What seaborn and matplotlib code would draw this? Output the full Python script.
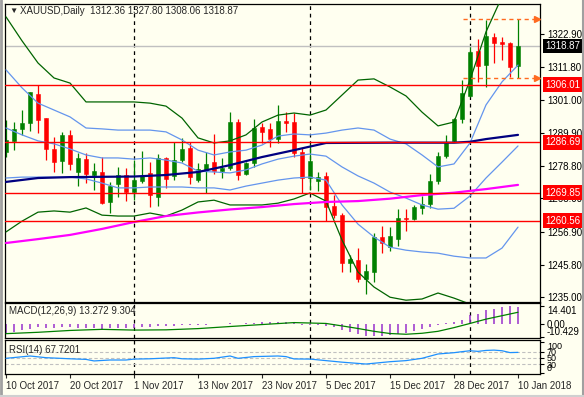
import seaborn as sns
import matplotlib
matplotlib.use("Agg")
import matplotlib.pyplot as plt
from matplotlib import transforms
from matplotlib import lines
import numpy as np

sns.set_style("white")
plt.rcParams['font.family'] = ['Liberation Sans', 'DejaVu Sans']

BG = "#FFFFF0"
BULL = "#008000"
BEAR = "#FF0000"
BB_OUT = "#006400"
BB_IN = "#6495ED"
NAVY = "#000080"
MAGENTA = "#FF00FF"
ORANGE = "#FF6A1F"
HIST = "#9932CC"
RSI_C = "#1E90FF"

# ---- daily candles, 10 Oct 2017 .. 10 Jan 2018
opens = [1283.5, 1287.3, 1291.2, 1293.1, 1302.9, 1294.7, 1284.5, 1280.6, 1289.2, 1276.9,
         1281.1, 1275.8, 1276.7, 1266.7, 1272.8, 1275.8, 1270.2, 1273.9, 1276.4, 1268.6,
         1281.4, 1275.6, 1280.8, 1284.9, 1274.1, 1277.5, 1280.0, 1277.2, 1278.2, 1293.6,
         1276.1, 1279.7, 1291.7, 1291.2, 1287.8, 1293.8, 1293.4, 1283.6, 1274.7, 1273.9,
         1275.5, 1265.4, 1262.4, 1246.5, 1247.4, 1241.1, 1243.5, 1255.2, 1251.8, 1254.4,
         1261.5, 1261.0, 1264.9, 1266.0, 1273.8, 1282.2, 1287.3, 1294.4, 1302.2, 1317.3,
         1312.5, 1322.0, 1320.3, 1320.0, 1312.36]
highs = [1294.2, 1293.6, 1297.5, 1303.6, 1305.9, 1295.0, 1288.6, 1290.3, 1290.8, 1283.2,
         1283.0, 1279.7, 1281.9, 1273.5, 1278.6, 1278.0, 1280.8, 1283.8, 1280.0, 1282.7,
         1281.7, 1286.9, 1288.1, 1286.7, 1279.7, 1283.4, 1289.4, 1281.4, 1296.9, 1294.4,
         1280.2, 1294.5, 1293.1, 1293.1, 1299.2, 1296.9, 1296.4, 1284.9, 1286.1, 1276.9,
         1276.9, 1269.1, 1263.0, 1249.1, 1251.3, 1246.0, 1256.5, 1258.8, 1258.5, 1264.3,
         1264.6, 1265.8, 1268.8, 1276.0, 1283.6, 1289.2, 1294.7, 1307.5, 1318.7, 1321.2,
         1327.6, 1323.3, 1322.0, 1320.1, 1327.80]
lows = [1281.8, 1284.2, 1289.2, 1290.6, 1289.9, 1280.8, 1276.9, 1276.6, 1277.5, 1272.1,
        1273.2, 1270.8, 1266.1, 1263.2, 1268.5, 1267.2, 1267.4, 1273.0, 1265.0, 1265.5,
        1271.3, 1274.1, 1280.1, 1272.8, 1273.6, 1269.7, 1276.3, 1274.7, 1277.5, 1274.1,
        1275.8, 1278.6, 1286.4, 1285.3, 1286.4, 1290.3, 1281.7, 1269.9, 1270.8, 1270.6,
        1260.5, 1261.4, 1243.5, 1243.5, 1240.2, 1236.0, 1240.0, 1249.8, 1250.5, 1252.1,
        1257.2, 1260.8, 1262.8, 1264.7, 1272.8, 1281.4, 1286.9, 1293.3, 1301.9, 1307.0,
        1305.3, 1313.3, 1314.2, 1308.6, 1308.06]
closes = [1287.5, 1291.1, 1293.1, 1303.4, 1294.2, 1284.5, 1280.2, 1289.2, 1279.5, 1281.4,
          1276.0, 1277.1, 1266.3, 1272.2, 1275.8, 1270.2, 1274.1, 1275.5, 1269.1, 1281.4,
          1274.4, 1280.8, 1284.5, 1275.2, 1277.7, 1279.5, 1277.1, 1278.2, 1293.6, 1275.8,
          1279.7, 1291.4, 1290.3, 1287.8, 1293.8, 1293.3, 1283.0, 1274.7, 1280.5, 1275.2,
          1265.2, 1262.4, 1246.3, 1247.7, 1241.1, 1243.7, 1255.2, 1253.0, 1255.4, 1261.3,
          1261.1, 1265.2, 1266.0, 1273.8, 1282.1, 1286.4, 1294.4, 1303.1, 1317.0, 1312.2,
          1322.2, 1320.0, 1319.7, 1312.0, 1318.87]

date_labels = ["10 Oct 2017", "20 Oct 2017", "1 Nov 2017", "13 Nov 2017", "23 Nov 2017",
               "5 Dec 2017", "15 Dec 2017", "28 Dec 2017", "10 Jan 2018"]
date_bars = [0, 8, 16, 24, 32, 40, 48, 56, 64]
month_start_bars = [16, 38, 58]

# ---- indicator lines
band_bars = list(range(0, 65, 2))
bb2_upper = [1328.6, 1320.6, 1313.2, 1308.2, 1306.5, 1300.2, 1300.2, 1300.2, 1300.2, 1299.8,
             1298.8, 1294.8, 1288.2, 1286.5, 1287.2, 1289.2, 1293.5, 1295.8, 1296.5, 1295.8,
             1297.5, 1302.5, 1307.5, 1307.9, 1305.2, 1302.2, 1296.8, 1292.2, 1293.5, 1307.5,
             1323.6, 1335.3, 1340.3]
bb2_lower = [1256.8, 1260.4, 1263.4, 1263.8, 1263.4, 1264.8, 1262.4, 1262.1, 1262.1, 1263.1,
             1262.1, 1264.1, 1266.8, 1267.4, 1265.8, 1265.8, 1265.8, 1266.4, 1267.8, 1269.8,
             1267.1, 1254.1, 1243.4, 1238.4, 1235.0, 1234.0, 1234.4, 1236.4, 1234.7, 1232.7,
             1226.0, 1224.3, 1231.4]
bb_mid = [1291.5, 1289.2, 1287.2, 1286.2, 1284.5, 1282.5, 1281.5, 1281.5, 1281.1, 1281.5,
          1280.8, 1279.8, 1277.1, 1276.8, 1276.5, 1277.5, 1279.5, 1281.1, 1282.1, 1282.8,
          1282.1, 1278.5, 1275.5, 1273.1, 1270.1, 1268.1, 1265.8, 1264.4, 1264.7, 1268.8,
          1274.8, 1280.1, 1285.5]
bb1_upper = [1310.9, 1304.9, 1299.8, 1297.5, 1295.2, 1291.5, 1291.2, 1290.8, 1290.8, 1290.8,
             1290.2, 1287.5, 1284.1, 1282.5, 1283.5, 1284.1, 1285.8, 1288.8, 1289.5, 1289.2,
             1289.8, 1290.8, 1291.5, 1290.8, 1287.8, 1286.2, 1282.5, 1278.5, 1279.5, 1286.5,
             1299.2, 1306.9, 1312.5]
bb1_lower = [1274.8, 1275.1, 1275.1, 1275.1, 1275.1, 1274.5, 1273.1, 1271.5, 1271.5, 1271.8,
             1271.8, 1271.8, 1271.5, 1271.5, 1270.8, 1272.1, 1273.1, 1274.1, 1274.8, 1275.1,
             1274.1, 1265.8, 1259.4, 1255.1, 1251.7, 1250.7, 1250.1, 1249.7, 1248.7, 1248.1,
             1248.1, 1251.4, 1258.4]
navy_bars = [0, 4, 8, 16, 20, 24, 28, 32, 36, 40, 48, 56, 58, 60, 64]
navy_ma = [1273.5, 1274.8, 1275.1, 1275.3, 1275.8, 1276.8, 1279.1, 1281.8, 1284.1, 1286.5,
           1286.6, 1286.6, 1286.9, 1287.8, 1289.2]
magenta_bars = list(range(0, 65, 4))
magenta_ma = [1253.1, 1254.4, 1255.8, 1257.8, 1260.1, 1262.1, 1263.3, 1264.3, 1265.1, 1266.1,
              1266.8, 1267.1, 1267.9, 1269.1, 1269.9, 1271.1, 1272.5]

red_levels = [1306.01, 1286.69, 1269.85, 1260.56]
price_ticks = [1322.90, 1311.80, 1301.00, 1289.90, 1278.80, 1268.00, 1256.90, 1245.80, 1235.00]

macd_hist = [-8.0, -7.0, -5.5, -4.2, -3.0, -3.2, -3.8, -3.0, -3.0, -3.2,
             -3.5, -3.5, -4.0, -3.8, -3.3, -3.3, -3.2, -2.8, -2.8, -2.2,
             -2.0, -1.6, -1.2, -1.2, -1.2, -0.9, -0.6, -0.5, 0.4, -0.1,
             0.3, 0.9, 1.2, 1.0, 1.5, 1.5, 0.5, -0.8, -1.0, -1.3,
             -2.2, -2.8, -5.0, -6.6, -8.5, -10.4, -10.2, -9.8, -9.0, -8.2,
             -7.4, -6.0, -4.2, -2.7, -1.0, 0.5, 1.6, 3.3, 6.9, 8.2,
             10.8, 11.6, 13.6, 14.4, 13.272]
signal_bars = [0, 4, 8, 12, 16, 20, 24, 28, 32, 36, 40, 42, 44, 46, 48, 50, 52, 54, 56, 58, 60, 62, 64]
macd_signal = [-8.1, -7.0, -5.5, -4.6, -5.2, -5.0, -4.0, -2.3, -0.7, 0.9, 0.2, -1.8, -3.9, -6.2,
               -8.0, -8.6, -7.8, -6.2, -3.2, 0.2, 3.7, 6.5, 9.304]

rsi_bars = [0, 3, 5, 8, 10, 11, 13, 15, 16, 18, 21, 22, 24, 26, 28, 29, 31, 34, 35, 36,
            38, 40, 42, 44, 45, 48, 50, 52, 54, 56, 57, 58, 59, 60, 61, 62, 63, 64]
rsi = [48.5, 56, 50.5, 47, 45, 40, 43, 43, 46, 47, 50.5, 47, 46, 48.5, 56, 48.5, 54, 56, 54, 46.5,
       46, 41, 36, 32, 30, 37.5, 41, 48.5, 62.5, 66.7, 70, 73, 71, 74, 75, 73, 67, 67.7201]

# ---- figure / panels (MT4 like layout)
W, H = 584, 397
fig = plt.figure(figsize=(W / 100, H / 100), dpi=100, facecolor=BG)
left, right = 4.5, 540
ax = fig.add_axes([left / W, 1 - 302 / H, (right - left) / W, 298 / H])
ax_macd = fig.add_axes([left / W, 1 - 337.7 / H, (right - left) / W, 34.4 / H], sharex=ax)
ax_rsi = fig.add_axes([left / W, 1 - 374 / H, (right - left) / W, 33.7 / H], sharex=ax)

for a in (ax, ax_macd, ax_rsi):
    a.set_facecolor(BG)
    for s in a.spines.values():
        s.set_color("black")
        s.set_linewidth(0.9)
    a.yaxis.tick_right()
    a.tick_params(axis="y", right=True, left=False, length=3, width=0.8, pad=2,
                  labelsize=7, colors="black")
    a.tick_params(axis="x", bottom=False, labelbottom=False)
    a.set_xlabel("")
    a.set_ylabel("")
    for b in month_start_bars:
        a.axvline(b, color="black", ls=(0, (3, 3)), lw=0.9, zorder=1)

ax.set_xlim(-0.19, 66.75)

# ---- candles
bars = np.arange(len(opens))
o = np.array(opens); c = np.array(closes)
colors = [BULL if cc >= oo else BEAR for oo, cc in zip(o, c)]
ax.vlines(bars, lows, highs, colors=colors, lw=0.9, zorder=2)
body = np.maximum(np.abs(c - o), 0.35)
ax.bar(bars, body, bottom=np.minimum(o, c), width=0.62, color=colors,
       edgecolor=colors, lw=0.4, zorder=2)

# ---- bands and moving averages
for vals, col in [(bb2_upper, BB_OUT), (bb2_lower, BB_OUT)]:
    sns.lineplot(x=band_bars, y=vals, ax=ax, color=col, lw=0.9, legend=False, zorder=3)
for vals in (bb1_upper, bb_mid, bb1_lower):
    sns.lineplot(x=band_bars, y=vals, ax=ax, color=BB_IN, lw=0.9, legend=False, zorder=3)
sns.lineplot(x=navy_bars, y=navy_ma, ax=ax, color=NAVY, lw=1.6, legend=False, zorder=3)
sns.lineplot(x=magenta_bars, y=magenta_ma, ax=ax, color=MAGENTA, lw=1.6, legend=False, zorder=3)

# ---- levels
for lvl in red_levels:
    ax.axhline(lvl, color="red", lw=1.0, zorder=4)
ax.axhline(closes[-1], color="#c0c0c0", lw=1.0, zorder=1.5)

# range of the last session, dashed with arrow tips
for lvl in (highs[-1], lows[-1]):
    ax.hlines(lvl, 57.1, 66.2, colors=ORANGE, linestyles=(0, (3, 2.5)), lw=1.0, zorder=5)
    ax.plot([66.35], [lvl], marker=">", color=ORANGE, ms=4, mec=ORANGE, zorder=5)

ax.set_ylim(1233.4, 1332.9)
ax.set_yticks(price_ticks)
ax.set_yticklabels([f"{p:.2f}" for p in price_ticks])

blend = transforms.blended_transform_factory(ax.transAxes, ax.transData)
for lvl in red_levels:
    ax.text(1.0095, lvl, f"{lvl:.2f}", transform=blend, color="white", fontsize=7,
            va="center", ha="left", clip_on=False, zorder=10,
            bbox=dict(boxstyle="square,pad=0.25", fc="red", ec="none"))
ax.text(1.0095, closes[-1], f"{closes[-1]:.2f}", transform=blend, color="white", fontsize=7,
        va="center", ha="left", clip_on=False, zorder=10,
        bbox=dict(boxstyle="square,pad=0.25", fc="black", ec="none"))

# title
fig.text(9 / W, 1 - 11.5 / H, "▼", fontsize=6, va="center", ha="left")
fig.text(20 / W, 1 - 11.5 / H,
         f"XAUUSD,Daily  {opens[-1]:.2f} {highs[-1]:.2f} {lows[-1]:.2f} {closes[-1]:.2f}",
         fontsize=7, va="center", ha="left")

# ---- MACD
ax_macd.vlines(bars, 0, macd_hist, colors=HIST, lw=1.1, zorder=2)
sns.lineplot(x=signal_bars, y=macd_signal, ax=ax_macd, color=BULL, lw=0.9, legend=False, zorder=3)
ax_macd.set_ylim(-11.4, 16.6)
ax_macd.set_yticks([14.401, 0.0, -10.429])
ax_macd.set_yticklabels(["14.401", "0.00", "-10.429"])
tl = ax_macd.get_yticklabels()
tl[0].set_va("top"); tl[2].set_va("bottom")
ax_macd.text(0.008, 0.78, f"MACD(12,26,9) {macd_hist[-1]:.3f} {macd_signal[-1]:.3f}",
             transform=ax_macd.transAxes, fontsize=7, va="center", ha="left")

# ---- RSI
for lvl in (70, 50, 30):
    ax_rsi.axhline(lvl, color="#c0c0c0", ls=(0, (3, 2)), lw=0.8, zorder=1)
sns.lineplot(x=rsi_bars, y=rsi, ax=ax_rsi, color=RSI_C, lw=0.9, legend=False, zorder=3)
ax_rsi.set_ylim(-2.3, 106.8)
ax_rsi.set_yticks([100, 70, 50, 30, 0])
ax_rsi.set_yticklabels(["100", "70", "50", "30", "0"])
ax_rsi.tick_params(axis="y", labelsize=6.5)
tl = ax_rsi.get_yticklabels()
tl[0].set_va("top"); tl[4].set_va("bottom")
ax_rsi.text(0.008, 0.72, f"RSI(14) {rsi[-1]:.4f}", transform=ax_rsi.transAxes,
            fontsize=7, va="center", ha="left")

ax_rsi.set_xticks(date_bars)
ax_rsi.set_xticklabels(date_labels)
ax_rsi.tick_params(axis="x", bottom=True, labelbottom=True, length=3, width=0.8, pad=2,
                   labelsize=7, direction="out")
for t in ax_rsi.get_xticklabels():
    t.set_ha("left")
ax_rsi.set_xlim(-0.19, 66.75)

# window frame
fig.add_artist(lines.Line2D([0.5 / W, 0.5 / W], [0, 1], color="#a0a0a0", lw=2))
fig.add_artist(lines.Line2D([1 - 1.5 / W, 1 - 1.5 / W], [0, 1], color="#a0a0a0", lw=1.5))
fig.add_artist(lines.Line2D([0, 1], [1.5 / H, 1.5 / H], color="#d0d0d0", lw=1.5))

plt.savefig("out.png", dpi=100, facecolor=BG)
